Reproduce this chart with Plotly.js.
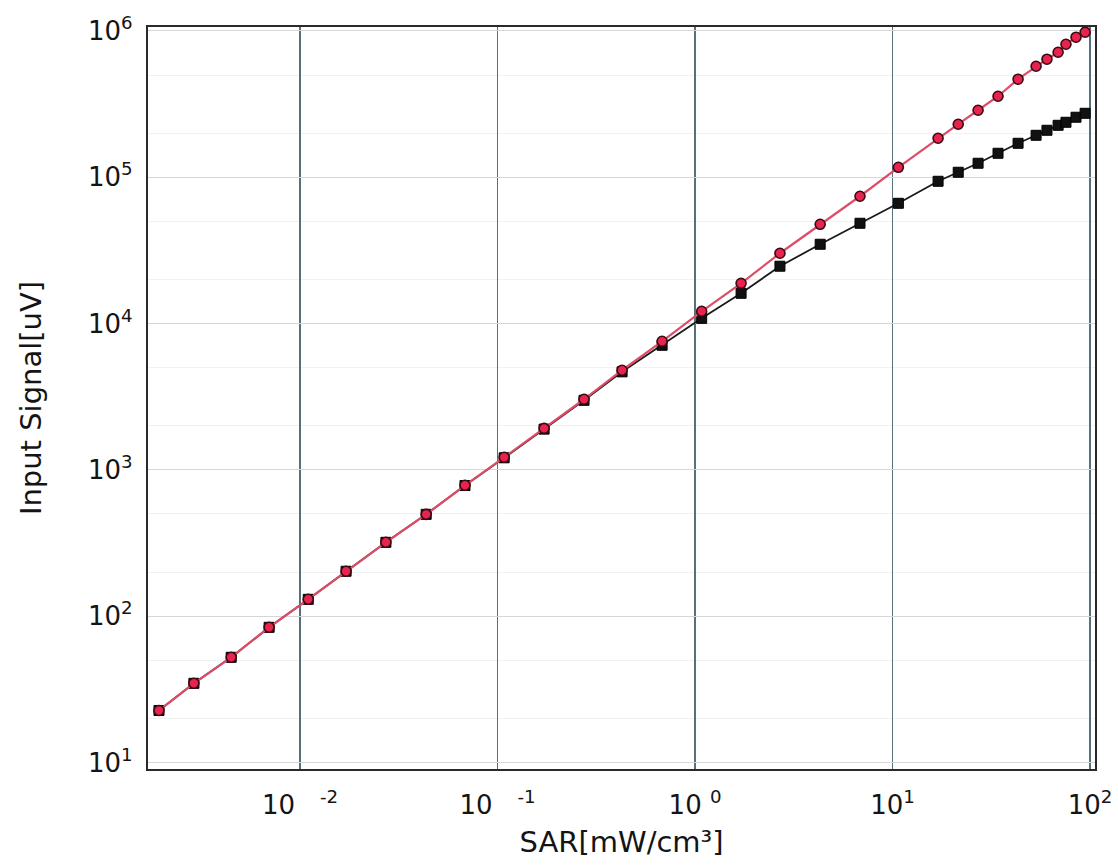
<!DOCTYPE html>
<html>
<head>
<meta charset="utf-8">
<script src="https://cdn.plot.ly/plotly-3.0.1.min.js"></script>
<style>
  html, body { margin: 0; padding: 0; background: #ffffff; }
  #chart { width: 1118px; height: 867px; }
</style>
</head>
<body>
<div id="chart"></div>
<script>
// SAR steps of the linearity sweep (mW/cm³)
const sar = [
  0.00193, 0.0029, 0.00448, 0.00697, 0.0110, 0.0171, 0.0272, 0.0435,
  0.0684, 0.108, 0.172, 0.274, 0.427, 0.681, 1.08, 1.71, 2.69, 4.30,
  6.84, 10.7, 17.0, 21.5, 27.1, 34.2, 43.2, 53.3, 60.5, 68.9, 75.5, 84.9, 94.4
];

// Linearised (compensated) input signal, uV
const signalLinear = [
  22.7, 34.8, 52.4, 84.0, 130.5, 203, 320, 497,
  785, 1220, 1923, 3040, 4800, 7570, 12140, 18840, 30250, 47700,
  74200, 117000, 184800, 230400, 287000, 358000, 468000, 574000, 641000, 715000, 811000, 906000, 980000
];

// Raw (uncompensated) input signal, uV
const signalRaw = [
  22.7, 34.8, 52.4, 84.0, 130.5, 203, 320, 497,
  782, 1210, 1900, 2990, 4680, 7110, 10860, 16110, 24670, 34850,
  48500, 66400, 93900, 108200, 124700, 145900, 170700, 193600, 209500, 226600, 237600, 257200, 273700
];

// Axis tick positions and labels
const xTickVals = [0.01, 0.1, 1, 10, 100];
const xTickText = [
  '10\u00a0\u00a0\u00a0<sup>-2</sup>',
  '10\u00a0\u00a0\u00a0<sup>-1</sup>',
  '10\u00a0<sup>0</sup>',
  '10<sup>1</sup>',
  '10<sup>2</sup>'
];
const yTickVals = [10, 100, 1000, 10000, 100000, 1000000];
const yTickText = ['10<sup>1</sup>', '10<sup>2</sup>', '10<sup>3</sup>', '10<sup>4</sup>', '10<sup>5</sup>', '10<sup>6</sup>'];

const font = 'DejaVu Sans, Verdana, sans-serif';
const ink = '#141414';

const traces = [
  {
    x: sar, y: signalRaw,
    type: 'scatter', mode: 'lines+markers',
    line: { color: '#1a1a1a', width: 1.8 },
    marker: { symbol: 'square', size: 10, color: '#111111', line: { color: '#000000', width: 1 } },
    hoverinfo: 'x+y'
  },
  {
    x: sar, y: signalLinear,
    type: 'scatter', mode: 'lines+markers',
    line: { color: '#de4c68', width: 2.2 },
    marker: { symbol: 'circle', size: 10, color: '#e8234d', line: { color: '#3a0a14', width: 1.6 } },
    hoverinfo: 'x+y'
  }
];

const layout = {
  width: 1118,
  height: 867,
  margin: { l: 148, r: 23, t: 27, b: 98 },
  paper_bgcolor: '#ffffff',
  plot_bgcolor: '#ffffff',
  showlegend: false,
  font: { family: font, color: ink, size: 26 },
  xaxis: {
    type: 'log',
    range: [-2.77, 2.025],
    tickmode: 'array',
    tickvals: xTickVals,
    ticktext: xTickText,
    ticks: '',
    ticklabelstandoff: 12,
    tickfont: { family: font, size: 26, color: ink },
    showgrid: true,
    gridcolor: '#56707e',
    gridwidth: 1.6,
    zeroline: false,
    showline: true,
    mirror: true,
    linecolor: '#2a2a2a',
    linewidth: 2.2,
    title: { text: 'SAR[mW/cm³]', font: { family: font, size: 29, color: ink }, standoff: 12 }
  },
  yaxis: {
    type: 'log',
    range: [0.956, 6.027],
    tickmode: 'array',
    tickvals: yTickVals,
    ticktext: yTickText,
    ticks: '',
    ticklabelstandoff: 8,
    tickfont: { family: font, size: 26, color: ink },
    showgrid: true,
    gridcolor: '#d6d6d6',
    gridwidth: 1,
    minor: { showgrid: true, gridcolor: '#f1f1f1', gridwidth: 1 },
    zeroline: false,
    showline: true,
    mirror: true,
    linecolor: '#2a2a2a',
    linewidth: 2.2,
    title: { text: 'Input Signal[uV]', font: { family: font, size: 29, color: ink }, standoff: 38 }
  }
};

Plotly.newPlot('chart', traces, layout, { displayModeBar: false, staticPlot: true });
</script>
</body>
</html>
